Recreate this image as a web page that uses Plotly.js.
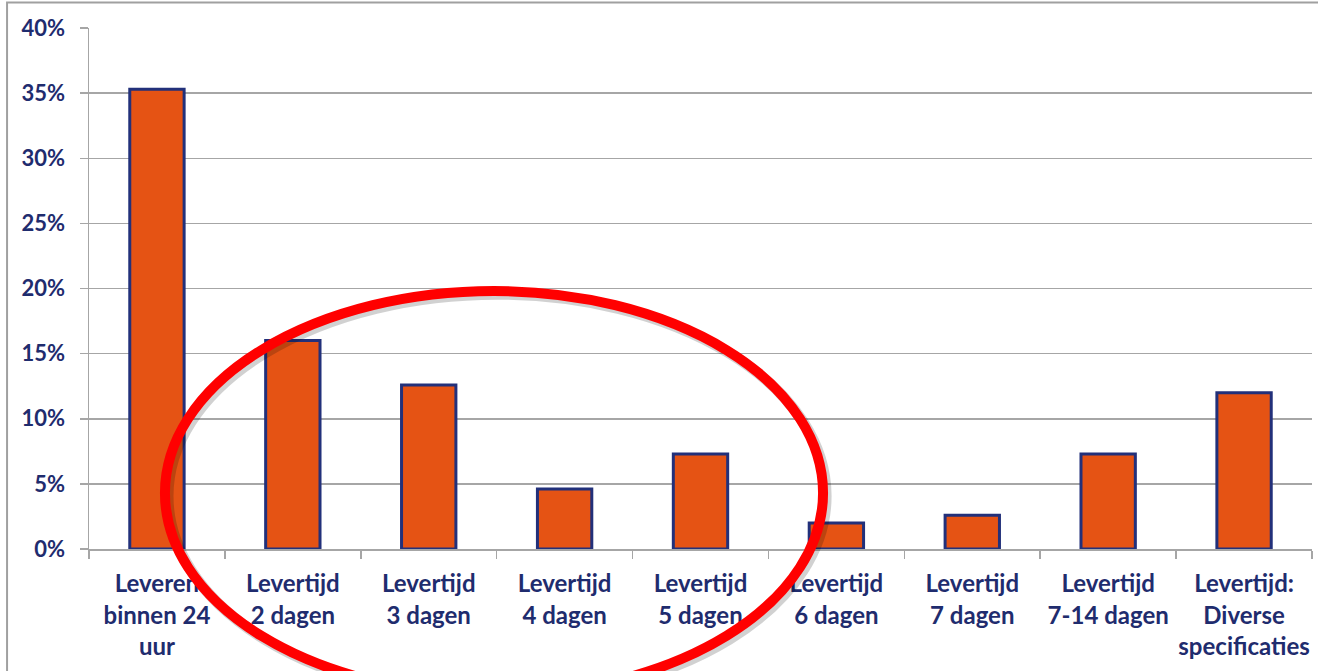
<!DOCTYPE html>
<html>
<head>
<meta charset="utf-8">
<script src="https://cdn.plot.ly/plotly-3.0.1.min.js"></script>
<style>html,body{margin:0;padding:0;background:#fff;}#chart{width:1318px;height:671px;}</style>
</head>
<body>
<div id="chart"></div>
<script>
const categories = [
  "Leveren<br>binnen 24<br>uur",
  "Levertijd<br>2 dagen",
  "Levertijd<br>3 dagen",
  "Levertijd<br>4 dagen",
  "Levertijd<br>5 dagen",
  "Levertijd<br>6 dagen",
  "Levertijd<br>7 dagen",
  "Levertijd<br>7-14 dagen",
  "Levertijd:<br>Diverse<br>specificaties"
];
const shares = [0.353, 0.160, 0.126, 0.046, 0.073, 0.020, 0.026, 0.073, 0.120];
const yTickVals = [0, 0.05, 0.10, 0.15, 0.20, 0.25, 0.30, 0.35, 0.40];

const navy = "#1F2C6E";
const grey = "#A6A6A6";

const trace = {
  type: "bar",
  x: categories,
  y: shares,
  marker: { color: "#E55314", line: { color: "#22307A", width: 3 } },
  hoverinfo: "x+y"
};

const layout = {
  width: 1318,
  height: 671,
  margin: { l: 89, r: 6, t: 28, b: 122 },
  paper_bgcolor: "#fff",
  plot_bgcolor: "#fff",
  bargap: 0.6,
  showlegend: false,
  font: { family: "Lato, 'Open Sans', sans-serif", color: navy },
  xaxis: {
    type: "category",
    tickson: "boundaries",
    ticks: "outside",
    ticklen: 8,
    tickwidth: 1.5,
    tickcolor: grey,
    showline: true,
    linecolor: grey,
    linewidth: 1.5,
    showgrid: false,
    tickangle: 0,
    tickfont: { family: "Lato, sans-serif", size: 24, color: navy, weight: "bold" },
    ticklabelstandoff: 13
  },
  yaxis: {
    range: [0, 0.40],
    tickvals: yTickVals,
    tickformat: ".0%",
    ticks: "outside",
    ticklen: 8,
    tickwidth: 1.5,
    tickcolor: grey,
    showline: true,
    linecolor: grey,
    linewidth: 1.5,
    showgrid: true,
    gridcolor: grey,
    gridwidth: 1.5,
    zeroline: false,
    tickfont: { family: "Lato, sans-serif", size: 22, color: navy, weight: "bold" },
    ticklabelstandoff: 10
  },
  shapes: [
    { type: "rect", xref: "paper", yref: "paper", x0: -0.067, x1: 1.2, y0: -0.4, y1: 1.049,
      line: { color: "#A0A0A0", width: 2 }, fillcolor: "rgba(0,0,0,0)", layer: "below" },
    { type: "circle", xref: "paper", yref: "paper", x0: 0.0646, x1: 0.6027, y0: -0.2862, y1: 0.4892,
      line: { color: "rgba(0,0,0,0.18)", width: 11 }, fillcolor: "rgba(0,0,0,0)", layer: "above" },
    { type: "circle", xref: "paper", yref: "paper", x0: 0.0621, x1: 0.6002, y0: -0.2802, y1: 0.4952,
      line: { color: "#FF0000", width: 10 }, fillcolor: "rgba(0,0,0,0)", layer: "above" }
  ]
};

Plotly.newPlot("chart", [trace], layout, { displayModeBar: false, staticPlot: true });
</script>
</body>
</html>
